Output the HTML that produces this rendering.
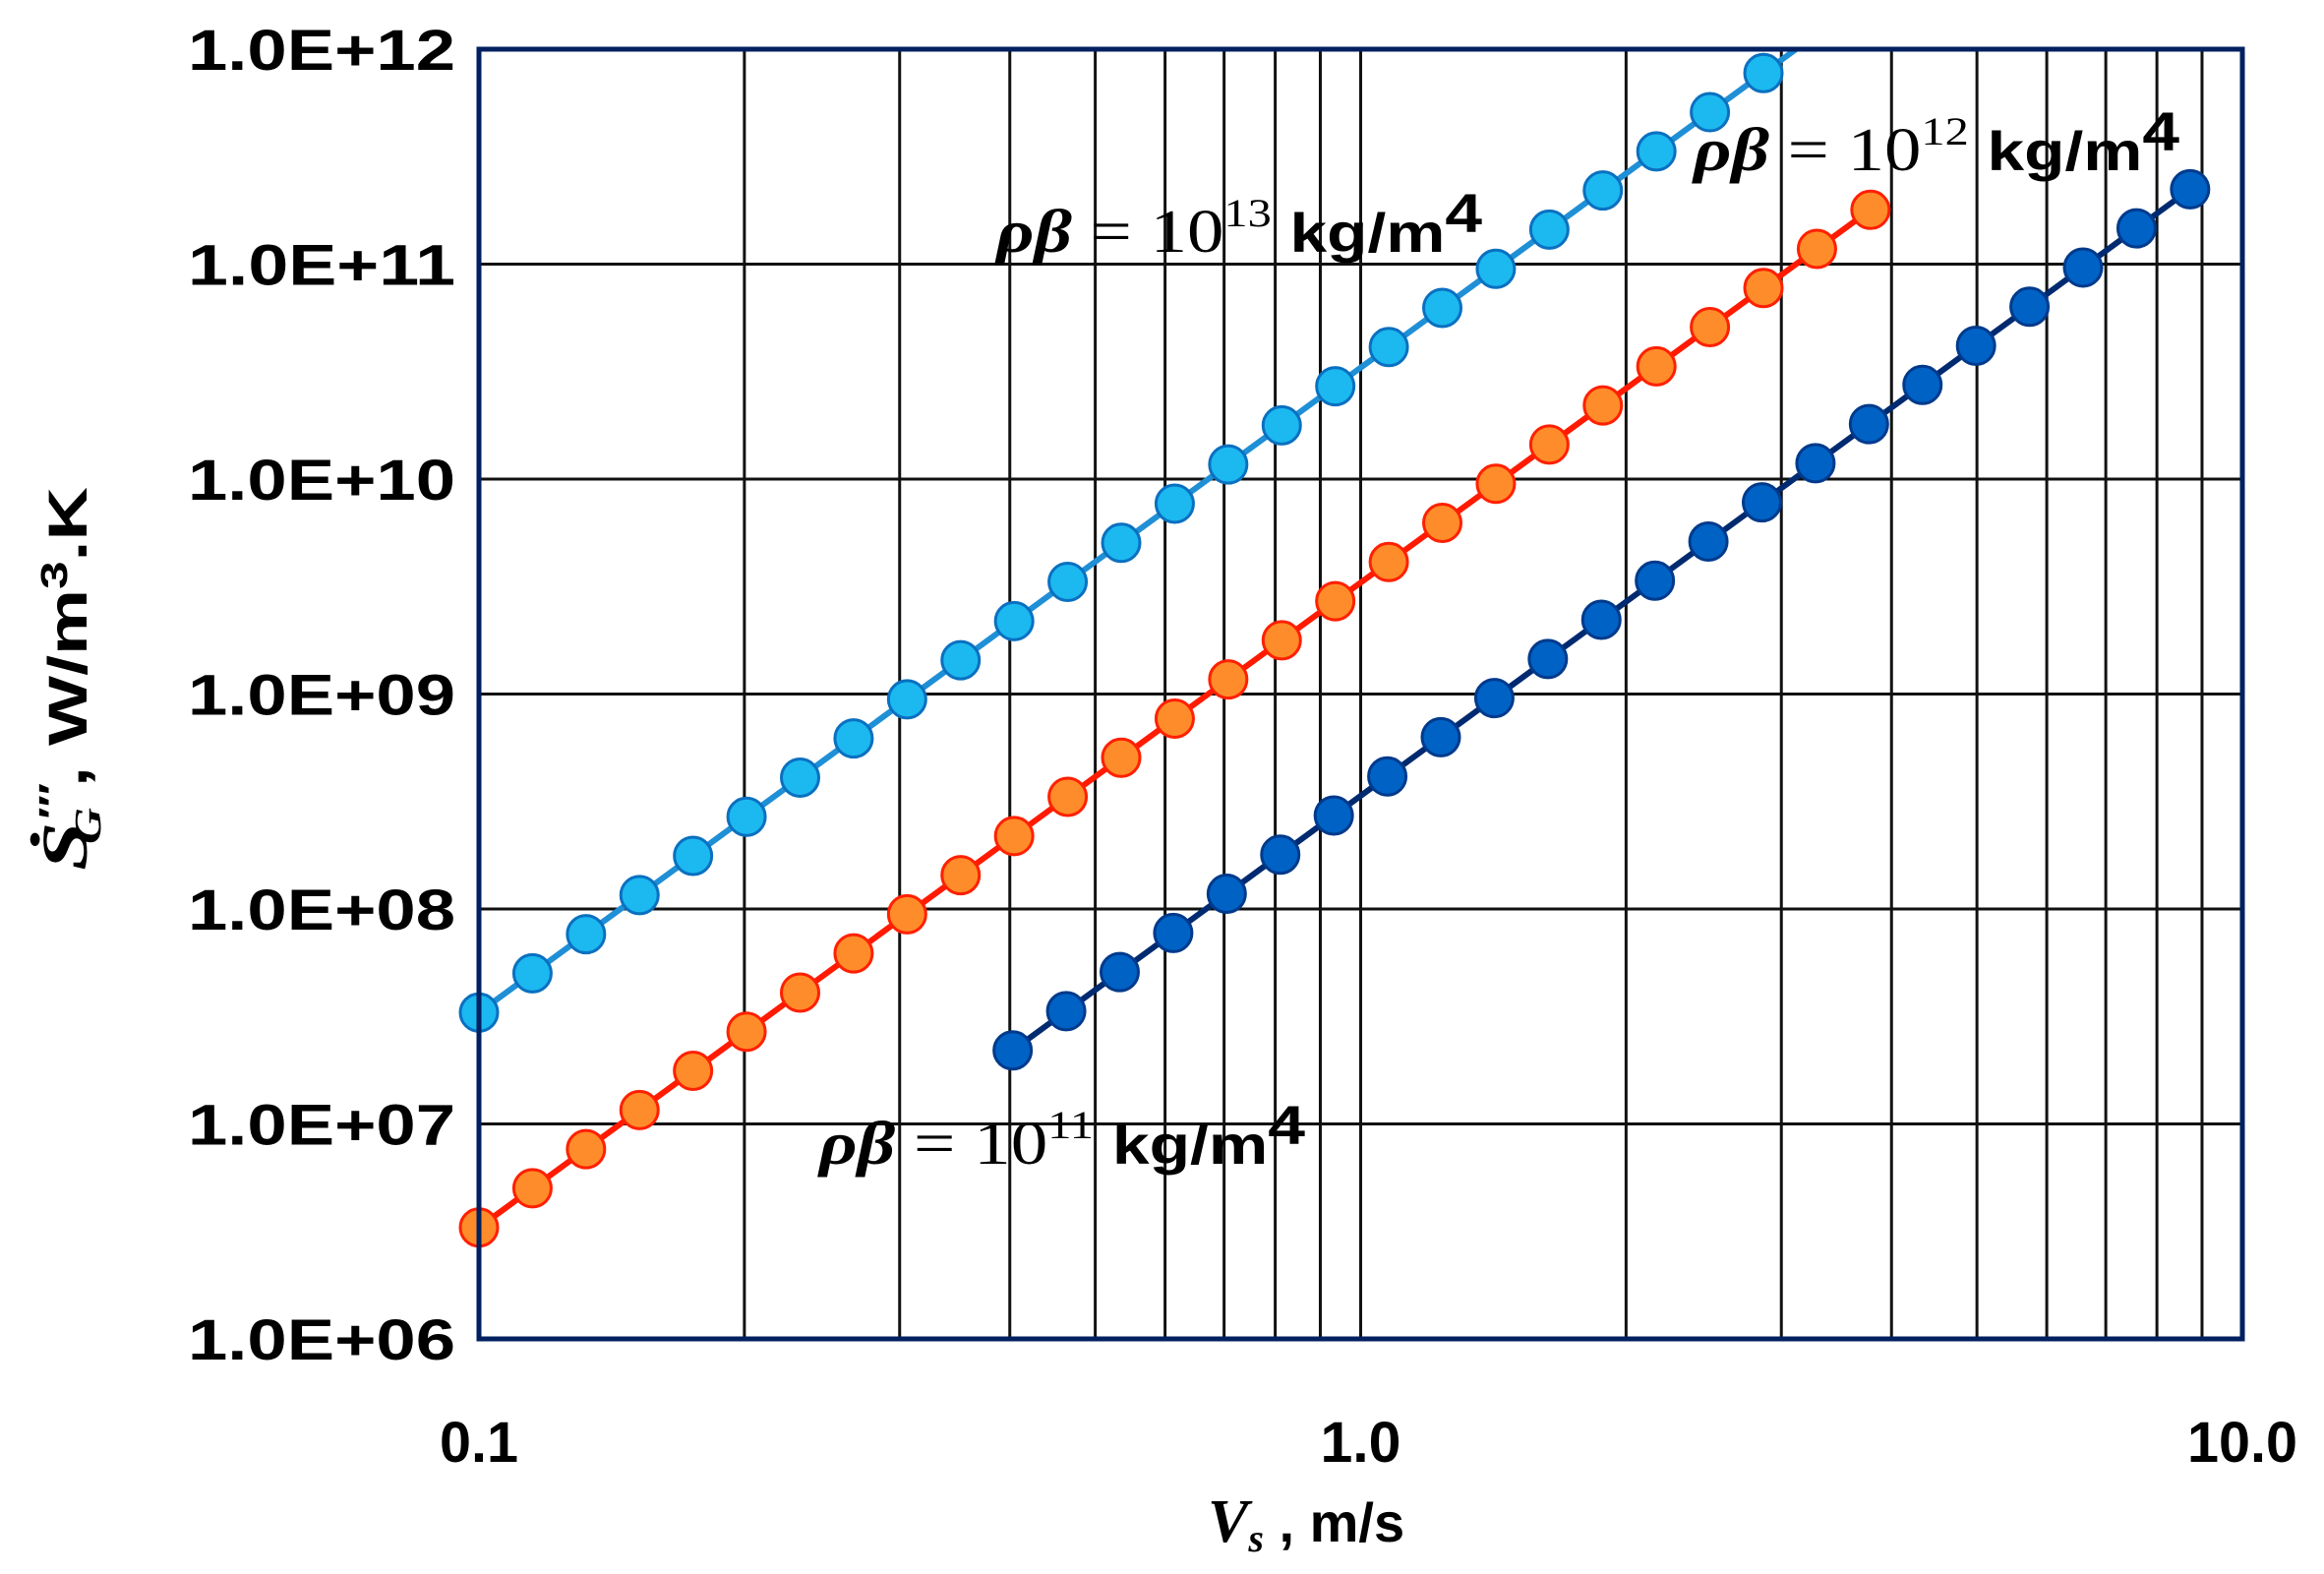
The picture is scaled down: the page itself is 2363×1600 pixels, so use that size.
<!DOCTYPE html>
<html><head><meta charset="utf-8"><style>
html,body{margin:0;padding:0;background:#fff}
svg{display:block}
.t{font-family:"Liberation Sans Narrow","Liberation Sans",sans-serif;font-weight:bold;font-size:58px;fill:#000}
.s{font-family:"Liberation Serif",serif;font-size:62px;fill:#000}
.a{font-family:"Liberation Sans",sans-serif;font-weight:bold;font-size:56px}
</style></head><body>
<svg id="c" width="2363" height="1600" xmlns="http://www.w3.org/2000/svg">
<g id="grid"></g>
<g id="series"></g>
<rect x="487" y="50" width="1793" height="1311" fill="none" stroke="#002060" stroke-width="5"/>
<g id="labels"></g>
<text class="s" x="1228" y="1567" font-style="italic" font-weight="bold" font-size="60">V<tspan font-size="40" dy="10">s</tspan><tspan dy="-10" class="a" font-style="normal"> , m/s</tspan></text>
<g transform="translate(88,690) rotate(-90)">
<text class="a" text-anchor="middle" x="0" y="0" textLength="390" lengthAdjust="spacingAndGlyphs"><tspan font-family="Liberation Serif" font-size="66" font-style="italic">Ṡ</tspan><tspan font-size="38" dy="-22" font-style="italic">′′′</tspan><tspan font-size="38" dy="36" dx="-44" font-style="italic" font-family="Liberation Serif">G</tspan><tspan dy="-14"> , W/m</tspan><tspan font-size="38" dy="-20">3</tspan><tspan dy="20">.K</tspan></text>
</g>
<text x="1013" y="256" class="s" textLength="494" lengthAdjust="spacingAndGlyphs"><tspan font-style="italic" font-weight="bold">ρβ</tspan> = 10<tspan font-size="40" dy="-26">13</tspan><tspan dy="26" class="a"> kg/m</tspan><tspan class="a" font-size="36" dy="-20">4</tspan></text>
<text x="1722" y="173" class="s" textLength="494" lengthAdjust="spacingAndGlyphs"><tspan font-style="italic" font-weight="bold">ρβ</tspan> = 10<tspan font-size="40" dy="-26">12</tspan><tspan dy="26" class="a"> kg/m</tspan><tspan class="a" font-size="36" dy="-20">4</tspan></text>
<text x="833" y="1183" class="s" textLength="494" lengthAdjust="spacingAndGlyphs"><tspan font-style="italic" font-weight="bold">ρβ</tspan> = 10<tspan font-size="40" dy="-26">11</tspan><tspan dy="26" class="a"> kg/m</tspan><tspan class="a" font-size="36" dy="-20">4</tspan></text>
</svg>
<script>
var L=487,R=2280,T=50,B=1361,DX=(R-L)/2,DY=(B-T)/6;
function X(v){return L+(Math.log10(v)+1)*DX}
function Y(v){return B-(Math.log10(v)-6)*DY}
var ns="http://www.w3.org/2000/svg";
function el(p,n,a,txt){var e=document.createElementNS(ns,n);for(var k in a)e.setAttribute(k,a[k]);if(txt)e.textContent=txt;p.appendChild(e);return e}
var g=document.getElementById('grid'),lab=document.getElementById('labels'),s=document.getElementById('series');
[0.2,0.3,0.4,0.5,0.6,0.7,0.8,0.9,1,2,3,4,5,6,7,8,9].forEach(function(v){var x=X(v);el(g,'line',{x1:x,x2:x,y1:T,y2:B,stroke:'#111','stroke-width':3})});
for(var d=7;d<=11;d++){var y=Y(Math.pow(10,d));el(g,'line',{x1:L,x2:R,y1:y,y2:y,stroke:'#111','stroke-width':3})}
for(var d=6;d<=12;d++){el(lab,'text',{x:191,y:Y(Math.pow(10,d))+21,'class':'t',textLength:272,lengthAdjust:'spacingAndGlyphs'},'1.0E+'+(d<10?'0'+d:d))}
[[0.1,'0.1',80],[1,'1.0',82],[10,'10.0',112]].forEach(function(a){el(lab,'text',{x:X(a[0])-a[2]/2,y:1486,'class':'t',textLength:a[2],lengthAdjust:'spacingAndGlyphs'},a[1])});
var step=0.0607;
function ser(c,x0,n,xe,line,fill,stroke){
 var pts=[];for(var i=0;i<n;i++){var x=x0*Math.pow(10,i*step);pts.push([X(x),Y(c*x*x*x)])}
 var end=xe?[X(xe),Y(c*xe*xe*xe)]:pts[pts.length-1];
 el(s,'line',{x1:pts[0][0],y1:pts[0][1],x2:end[0],y2:end[1],stroke:line,'stroke-width':6});
 pts.forEach(function(p){el(s,'circle',{cx:p[0],cy:p[1],r:19,fill:fill,stroke:stroke,'stroke-width':3})});
}
ser(3.3e10,0.1,25,Math.pow(1e12/3.3e10,1/3),'#1f8fd6','#1cb8f0','#0a70c0');
ser(3.3e9,0.1,27,null,'#ff1a00','#ff8c2a','#ff2000');
ser(3.36e8,0.403,23,null,'#002a70','#0062c4','#003a8c');
</script>
</body></html>
